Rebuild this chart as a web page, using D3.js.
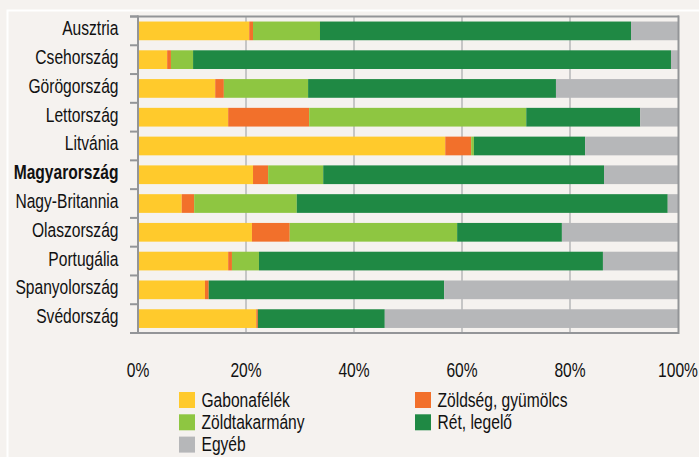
<!DOCTYPE html>
<html>
<head>
<meta charset="utf-8">
<script src="https://cdn.jsdelivr.net/npm/d3@7"></script>
<style>
  html, body { margin: 0; padding: 0; background: #f5f2ef; }
  svg { display: block; }
  text { font-family: "Liberation Sans", Arial, sans-serif; fill: #111111; }
</style>
</head>
<body>
<svg id="chart" width="699" height="457"></svg>
<script>
// country order, top to bottom
var countries = ["Ausztria", "Csehország", "Görögország", "Lettország", "Litvánia",
                 "Magyarország", "Nagy-Britannia", "Olaszország", "Portugália",
                 "Spanyolország", "Svédország"];

// shares of land use, %
var gabonafelek   = [20.6,  5.4, 14.3, 16.7, 56.9, 21.3,  8.1, 21.1, 16.7, 12.4, 21.9];
var zoldseg       = [ 0.7,  0.7,  1.6, 15.0,  4.8,  2.8,  2.3,  7.0,  0.7,  0.7,  0.3];
var zoldtakarmany = [12.4,  4.1, 15.6, 40.2,  0.5, 10.2, 19.0, 31.0,  5.0,  0.0,  0.0];
var retLegelo     = [57.6, 88.5, 45.9, 21.1, 20.6, 52.0, 68.7, 19.4, 63.7, 43.6, 23.5];
var egyeb         = [ 8.7,  1.3, 22.6,  7.0, 17.2, 13.7,  1.9, 21.5, 13.9, 43.3, 54.3];

var seriesNames = ["Gabonafélék", "Zöldség, gyümölcs", "Zöldtakarmány", "Rét, legelő", "Egyéb"];
var seriesColors = ["#ffca2c", "#f2702b", "#8ec641", "#1f8944", "#b6b7b9"];
var tickValues = [0, 20, 40, 60, 80, 100];
var boldCountry = "Magyarország";

var svg = d3.select("#chart");
var FONT = 19.5, SQUEEZE = 0.8;

function narrow(sel) {
  // the original labels use a condensed face; squeeze a normal one
  return sel.attr("transform", function(d) {
    return "translate(" + d._x + "," + d._y + ") scale(" + SQUEEZE + ",1)";
  });
}

var rows = countries.map(function(c, i) {
  var r = { country: c };
  r[seriesNames[0]] = gabonafelek[i];
  r[seriesNames[1]] = zoldseg[i];
  r[seriesNames[2]] = zoldtakarmany[i];
  r[seriesNames[3]] = retLegelo[i];
  r[seriesNames[4]] = egyeb[i];
  return r;
});

var stacked = d3.stack().keys(seriesNames)(rows);
var color = d3.scaleOrdinal().domain(seriesNames).range(seriesColors);

var x = d3.scaleLinear().domain([0, 100]).range([138, 678]);
var y = d3.scaleBand().domain(countries).range([16.5, 333])
          .paddingInner(0.35).paddingOuter(0.175);

// white frame of the panel
svg.append("rect")
   .attr("x", 7.5).attr("y", 10.5)
   .attr("width", 760).attr("height", 520)
   .attr("fill", "none").attr("stroke", "#ffffff").attr("stroke-width", 2);

// vertical gridlines
svg.append("g").selectAll("line")
   .data(tickValues.slice(1, -1))
   .enter().append("line")
   .attr("x1", function(d) { return x(d); }).attr("x2", function(d) { return x(d); })
   .attr("y1", y.range()[0]).attr("y2", y.range()[1])
   .attr("stroke", "#c6c6c6").attr("stroke-width", 2);

// bars
svg.append("g").selectAll("g")
   .data(stacked)
   .enter().append("g")
   .attr("fill", function(d) { return color(d.key); })
   .selectAll("rect")
   .data(function(d) { return d; })
   .enter().append("rect")
   .attr("x", function(d) { return x(d[0]); })
   .attr("y", function(d) { return y(d.data.country); })
   .attr("width", function(d) { return x(d[1]) - x(d[0]); })
   .attr("height", y.bandwidth());

// plot frame: top, right, bottom + left axis
var frame = svg.append("g").attr("stroke", "#939598").attr("stroke-width", 2).attr("fill", "none");
frame.append("line").attr("x1", 130).attr("x2", 679).attr("y1", y.range()[0]).attr("y2", y.range()[0]);
frame.append("line").attr("x1", 130).attr("x2", 679).attr("y1", y.range()[1]).attr("y2", y.range()[1]);
frame.append("line").attr("x1", 678.5).attr("x2", 678.5).attr("y1", y.range()[0] - 1).attr("y2", y.range()[1] + 1);
frame.append("line").attr("x1", 138).attr("x2", 138).attr("y1", y.range()[0] - 1).attr("y2", y.range()[1] + 1);

// category tick marks at band boundaries
var bounds = d3.range(countries.length + 1).map(function(i) { return y.range()[0] + i * y.step(); });
frame.selectAll("line.tk")
     .data(bounds)
     .enter().append("line")
     .attr("class", "tk")
     .attr("x1", 130).attr("x2", 138)
     .attr("y1", function(d) { return d; }).attr("y2", function(d) { return d; });

// country labels
svg.append("g").selectAll("text")
   .data(countries.map(function(c) { return { name: c, _x: 118.5, _y: y(c) + y.bandwidth() / 2 + 4.5 }; }))
   .enter().append("text")
   .call(narrow)
   .attr("text-anchor", "end")
   .style("font-size", FONT + "px")
   .style("font-weight", function(d) { return d.name === boldCountry ? "bold" : "normal"; })
   .text(function(d) { return d.name; });

// percent tick labels
svg.append("g").selectAll("text")
   .data(tickValues.map(function(t) { return { v: t, _x: x(t), _y: 377 }; }))
   .enter().append("text")
   .call(narrow)
   .attr("text-anchor", "middle")
   .style("font-size", FONT + "px")
   .text(function(d) { return d.v + "%"; });

// legend: two columns, filled row by row
var legend = svg.append("g").selectAll("g")
   .data(seriesNames.map(function(s, i) {
     return { name: s, lx: (i % 2 === 0) ? 179 : 415, ly: 392 + Math.floor(i / 2) * 22.3 };
   }))
   .enter().append("g");

legend.append("rect")
      .attr("x", function(d) { return d.lx; }).attr("y", function(d) { return d.ly; })
      .attr("width", 16).attr("height", 16)
      .attr("fill", function(d) { return color(d.name); });

legend.append("text")
      .each(function(d) { d._x = d.lx + 22.5; d._y = d.ly + 14.5; })
      .call(narrow)
      .style("font-size", FONT + "px")
      .text(function(d) { return d.name; });
</script>
</body>
</html>
